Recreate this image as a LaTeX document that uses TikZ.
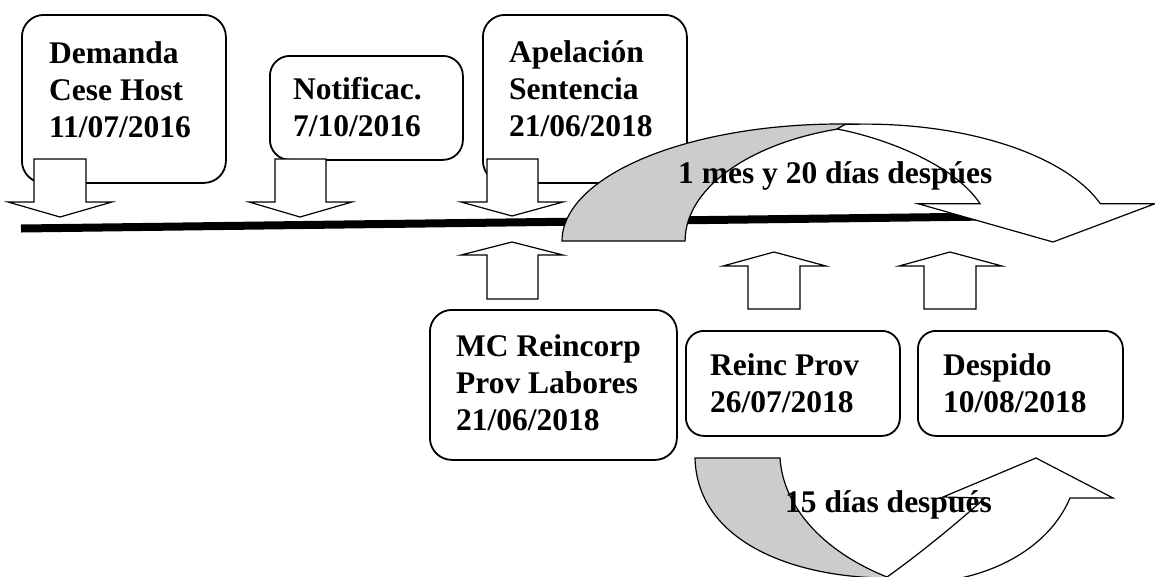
\documentclass[tikz,border=0pt]{standalone}
\usepackage{fontspec}
\setmainfont{Liberation Serif}
\definecolor{gry}{RGB}{204,204,204}
\begin{document}
\begin{tikzpicture}[x=1pt,y=-1pt,
  box/.style={draw, line width=1.8pt, rounded corners=22pt, fill=white, inner sep=0pt, anchor=north west},
  txt/.style={inner sep=0pt, anchor=base west, font=\fontsize{31.5}{37}\selectfont\bfseries},
  blk/.style={draw, line width=1.2pt, fill=white, line join=miter},
  band/.style={draw, line width=1.2pt, line join=miter},
]
\useasboundingbox (0,0) rectangle (1155,576);
\clip (0,0) rectangle (1155,576);

% timeline
\coordinate (tl0) at (21,228.5);
\coordinate (tl1) at (990,216.5);
\draw[line width=8pt] (tl0) -- (tl1);

% upper boxes
\node[box, minimum width=204pt, minimum height=168pt] (dem) at (21,14) {};
\node[txt] (demt) at (49,63) {\begin{tabular}[t]{@{}l@{}}Demanda\\Cese Host\\11/07/2016\end{tabular}};
\node[box, minimum width=193pt, minimum height=104pt, rounded corners=20pt] (not) at (269,55) {};
\node[txt] (nott) at (293,99) {\begin{tabular}[t]{@{}l@{}}Notificac.\\7/10/2016\end{tabular}};
\node[box, minimum width=204pt, minimum height=168pt] (ape) at (482,14) {};
\node[txt] (apet) at (509,62) {\begin{tabular}[t]{@{}l@{}}Apelación\\Sentencia\\21/06/2018\end{tabular}};

% lower boxes
\node[box, minimum width=247pt, minimum height=150pt] (mc) at (429,309) {};
\node[txt] (mct) at (456,356) {\begin{tabular}[t]{@{}l@{}}MC Reincorp\\Prov Labores\\21/06/2018\end{tabular}};
\node[box, minimum width=214pt, minimum height=105pt, rounded corners=18pt] (rei) at (685,330) {};
\node[txt] (reit) at (710,375) {\begin{tabular}[t]{@{}l@{}}Reinc Prov\\26/07/2018\end{tabular}};
\node[box, minimum width=205pt, minimum height=105pt, rounded corners=18pt] (des) at (917,330) {};
\node[txt] (dest) at (943,375) {\begin{tabular}[t]{@{}l@{}}Despido\\10/08/2018\end{tabular}};

% down block arrows
\draw[blk] (34,159) -- (86,159) -- (86,202) -- (112,202) -- (60,217) -- (8,202) -- (34,202) -- cycle;
\draw[blk] (275,159) -- (326,159) -- (326,202) -- (352,202) -- (300,217) -- (249,202) -- (275,202) -- cycle;
\draw[blk] (487,159) -- (538,159) -- (538,202) -- (563,202) -- (512,216) -- (461,202) -- (487,202) -- cycle;

% up block arrows
\draw[blk] (487,299) -- (538,299) -- (538,255) -- (563,255) -- (512,242) -- (461,255) -- (487,255) -- cycle;
\draw[blk] (748,309) -- (800,309) -- (800,266) -- (826,266) -- (774,252) -- (723,266) -- (748,266) -- cycle;
\draw[blk] (924,309) -- (976,309) -- (976,266) -- (1002,266) -- (950,252) -- (899,266) -- (924,266) -- cycle;

% top curved arrow
\draw[band, fill=gry] (562,241) arc[start angle=180, end angle=277, x radius=278, y radius=117]
  arc[start angle=263, end angle=180, x radius=215, y radius=117] -- cycle;
\draw[band, fill=white] (837,129) -- (845,124.5)
  arc[start angle=265.3, end angle=341.4, x radius=248, y radius=117]
  -- (1155,203.7) -- (1053,242) -- (918,203.7) -- (980,203.7)
  .. controls (955,165) and (885,138) .. (837,129) -- cycle;

% bottom curved arrow
\draw[band, fill=gry] (695,458) -- (780,458) .. controls (783,505) and (820,550) .. (887,577)
  -- (885,578) .. controls (790,577) and (697,540) .. (695,458) -- cycle;
\draw[band, fill=white] (985,498) -- (943,497) -- (1036,458) -- (1113,498) -- (1070,498)
  .. controls (1050,545) and (1000,572) .. (950,580) -- (940,595) -- (875,595) -- (887,577)
  .. controls (925,550) and (965,516) .. (985,498) -- cycle;

% labels
\node[txt] (lab1) at (678,183) {1 mes y 20 días despúes};
\node[txt] (lab2) at (785,512) {15 días después};
\end{tikzpicture}
\end{document}
